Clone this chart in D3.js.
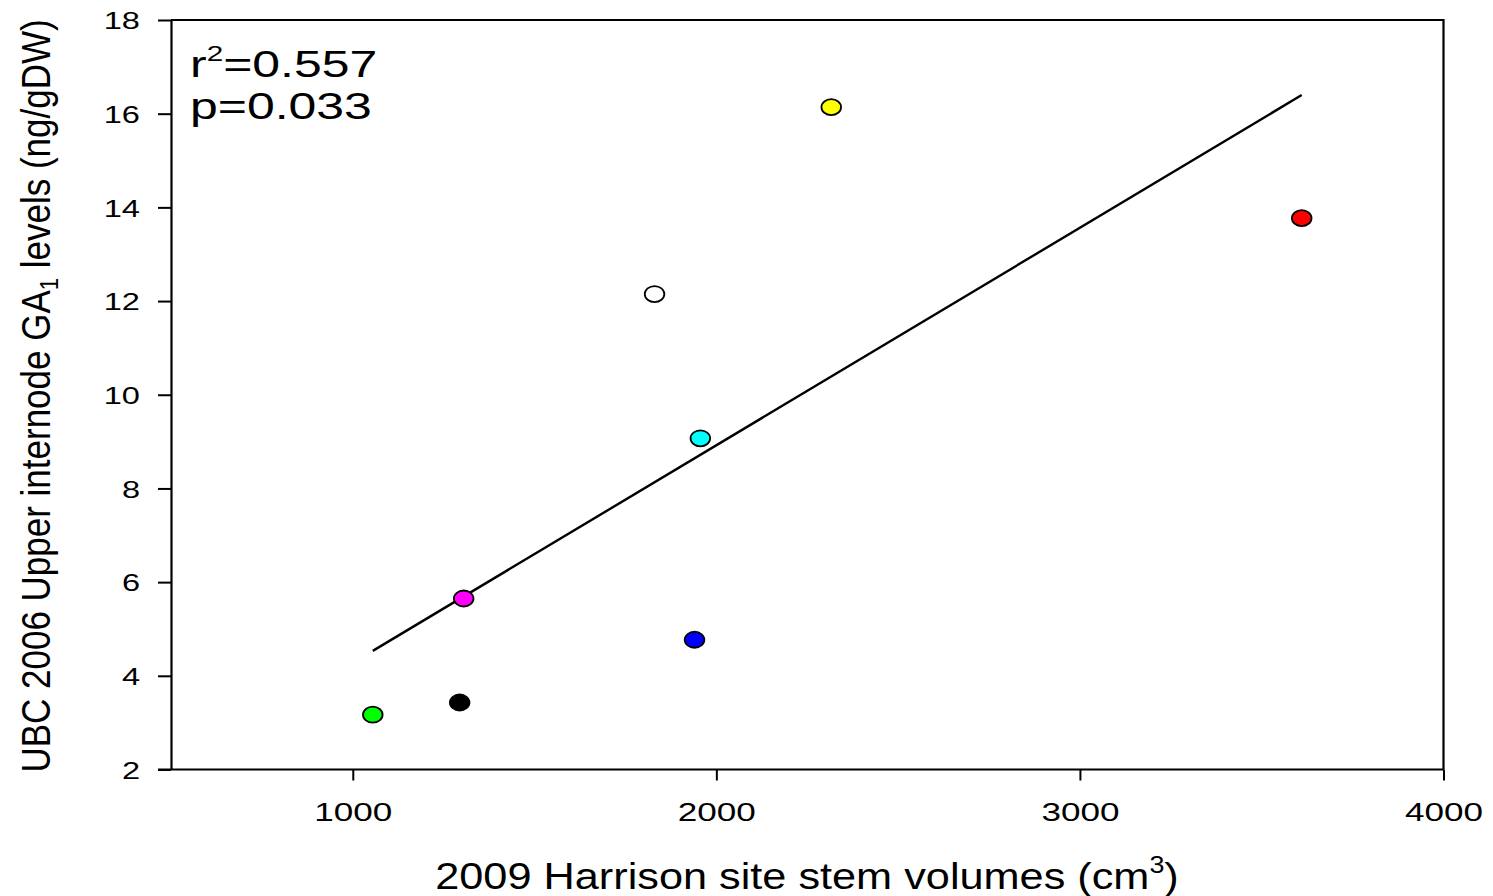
<!DOCTYPE html>
<html>
<head>
<meta charset="utf-8">
<script src="https://cdn.jsdelivr.net/npm/d3@7"></script>
<style>
html,body{margin:0;padding:0;background:#fff;}
svg{display:block;font-family:"Liberation Sans",Arial,sans-serif;}
</style>
</head>
<body>
<svg id="chart" width="1493" height="896"></svg>
<script>
const stemVolume = [1055, 1294, 1305, 1940, 1956, 1830, 2316, 3610];
const ga1Level   = [3.17, 3.43, 5.65, 4.77, 9.07, 12.15, 16.14, 13.77];
const pointFill  = ["#00ff00", "#000000", "#ff00ff", "#0000ff", "#00ffff", "#ffffff", "#ffff00", "#ff0000"];
const xTicks = [1000, 2000, 3000, 4000];
const yTicks = [2, 4, 6, 8, 10, 12, 14, 16, 18];
const xDomain = [500, 4000];
const yDomain = [2, 18];
const statsText = ["r²=0.557", "p=0.033"];

(function () {
const svg = d3.select("#chart");
const pl = 171, pr = 1443.5, pt = 20, pb = 769.5;
const x = d3.scaleLinear().domain(xDomain).range([pl, pr]);
const y = d3.scaleLinear().domain(yDomain).range([pb, pt]);

// frame (top & right)
svg.append("path")
  .attr("d", `M${pl},${pt}H${pr}V${pb}`)
  .attr("fill", "none").attr("stroke", "#000").attr("stroke-width", 2.2);

// x axis
const xAxis = svg.append("g").attr("transform", `translate(0,${pb})`)
  .call(d3.axisBottom(x).tickValues(xTicks).tickSize(11).tickSizeOuter(0).tickFormat(d3.format("d")));
xAxis.select(".domain").attr("d", `M158,0H${pr}`).attr("stroke-width", 2.2);
xAxis.selectAll(".tick line").attr("stroke-width", 2);
xAxis.selectAll(".tick text").attr("font-size", 26).attr("fill", "#000").attr("dy", 0).attr("y", 0)
  .attr("transform", "translate(0,51) scale(1.35,1)")
  .attr("font-family", "Liberation Sans, Arial, sans-serif");

// y axis
const yAxis = svg.append("g").attr("transform", `translate(${pl},0)`)
  .call(d3.axisLeft(y).tickValues(yTicks).tickSize(13).tickSizeOuter(0).tickFormat(d3.format("d")));
yAxis.select(".domain").attr("stroke-width", 2.2);
yAxis.selectAll(".tick line").attr("stroke-width", 2);
yAxis.selectAll(".tick text").attr("font-size", 24.5).attr("fill", "#000").attr("x", 0).attr("dy", "0.36em")
  .attr("transform", "translate(-31,0) scale(1.33,1)")
  .attr("font-family", "Liberation Sans, Arial, sans-serif");

// regression line computed from the data
const mx = d3.mean(stemVolume), my = d3.mean(ga1Level);
const slope = d3.sum(stemVolume, (v, i) => (v - mx) * (ga1Level[i] - my)) / d3.sum(stemVolume, v => (v - mx) ** 2);
const icpt = my - slope * mx;
const [xmin, xmax] = d3.extent(stemVolume);
svg.append("line")
  .attr("x1", x(xmin)).attr("y1", y(icpt + slope * xmin))
  .attr("x2", x(xmax)).attr("y2", y(icpt + slope * xmax))
  .attr("stroke", "#000").attr("stroke-width", 2.4);

// points
svg.append("g").selectAll("ellipse").data(stemVolume).join("ellipse")
  .attr("cx", d => x(d)).attr("cy", (d, i) => y(ga1Level[i]))
  .attr("rx", 9.8).attr("ry", 8)
  .attr("fill", (d, i) => pointFill[i]).attr("stroke", "#000").attr("stroke-width", 1.8);

// stats
const st = svg.append("text").attr("transform", "translate(190,77) scale(1.35,1)").attr("font-size", 37).attr("fill", "#000");
st.append("tspan").text("r");
st.append("tspan").attr("font-size", 22).attr("dy", -16).text("2");
st.append("tspan").attr("dy", 16).text("=0.557");
svg.append("text").attr("transform", "translate(190,119) scale(1.35,1)").attr("font-size", 37).attr("fill", "#000").text(statsText[1]);

// x title
const xt = svg.append("text").attr("transform", "translate(807,889) scale(1.17,1)").attr("text-anchor", "middle").attr("font-size", 37).attr("fill", "#000");
xt.append("tspan").text("2009 Harrison site stem volumes (cm");
xt.append("tspan").attr("font-size", 23).attr("dy", -16).text("3");
xt.append("tspan").attr("dy", 16).text(")");

// y title
const yt = svg.append("text").attr("transform", "translate(50,396) scale(1.17,1) rotate(-90)").attr("text-anchor", "middle").attr("font-size", 35).attr("fill", "#000");
yt.append("tspan").text("UBC 2006 Upper internode GA");
yt.append("tspan").attr("font-size", 22).attr("dy", 7).text("1");
yt.append("tspan").attr("dy", -7).text(" levels (ng/gDW)");
})();
</script>
</body>
</html>
